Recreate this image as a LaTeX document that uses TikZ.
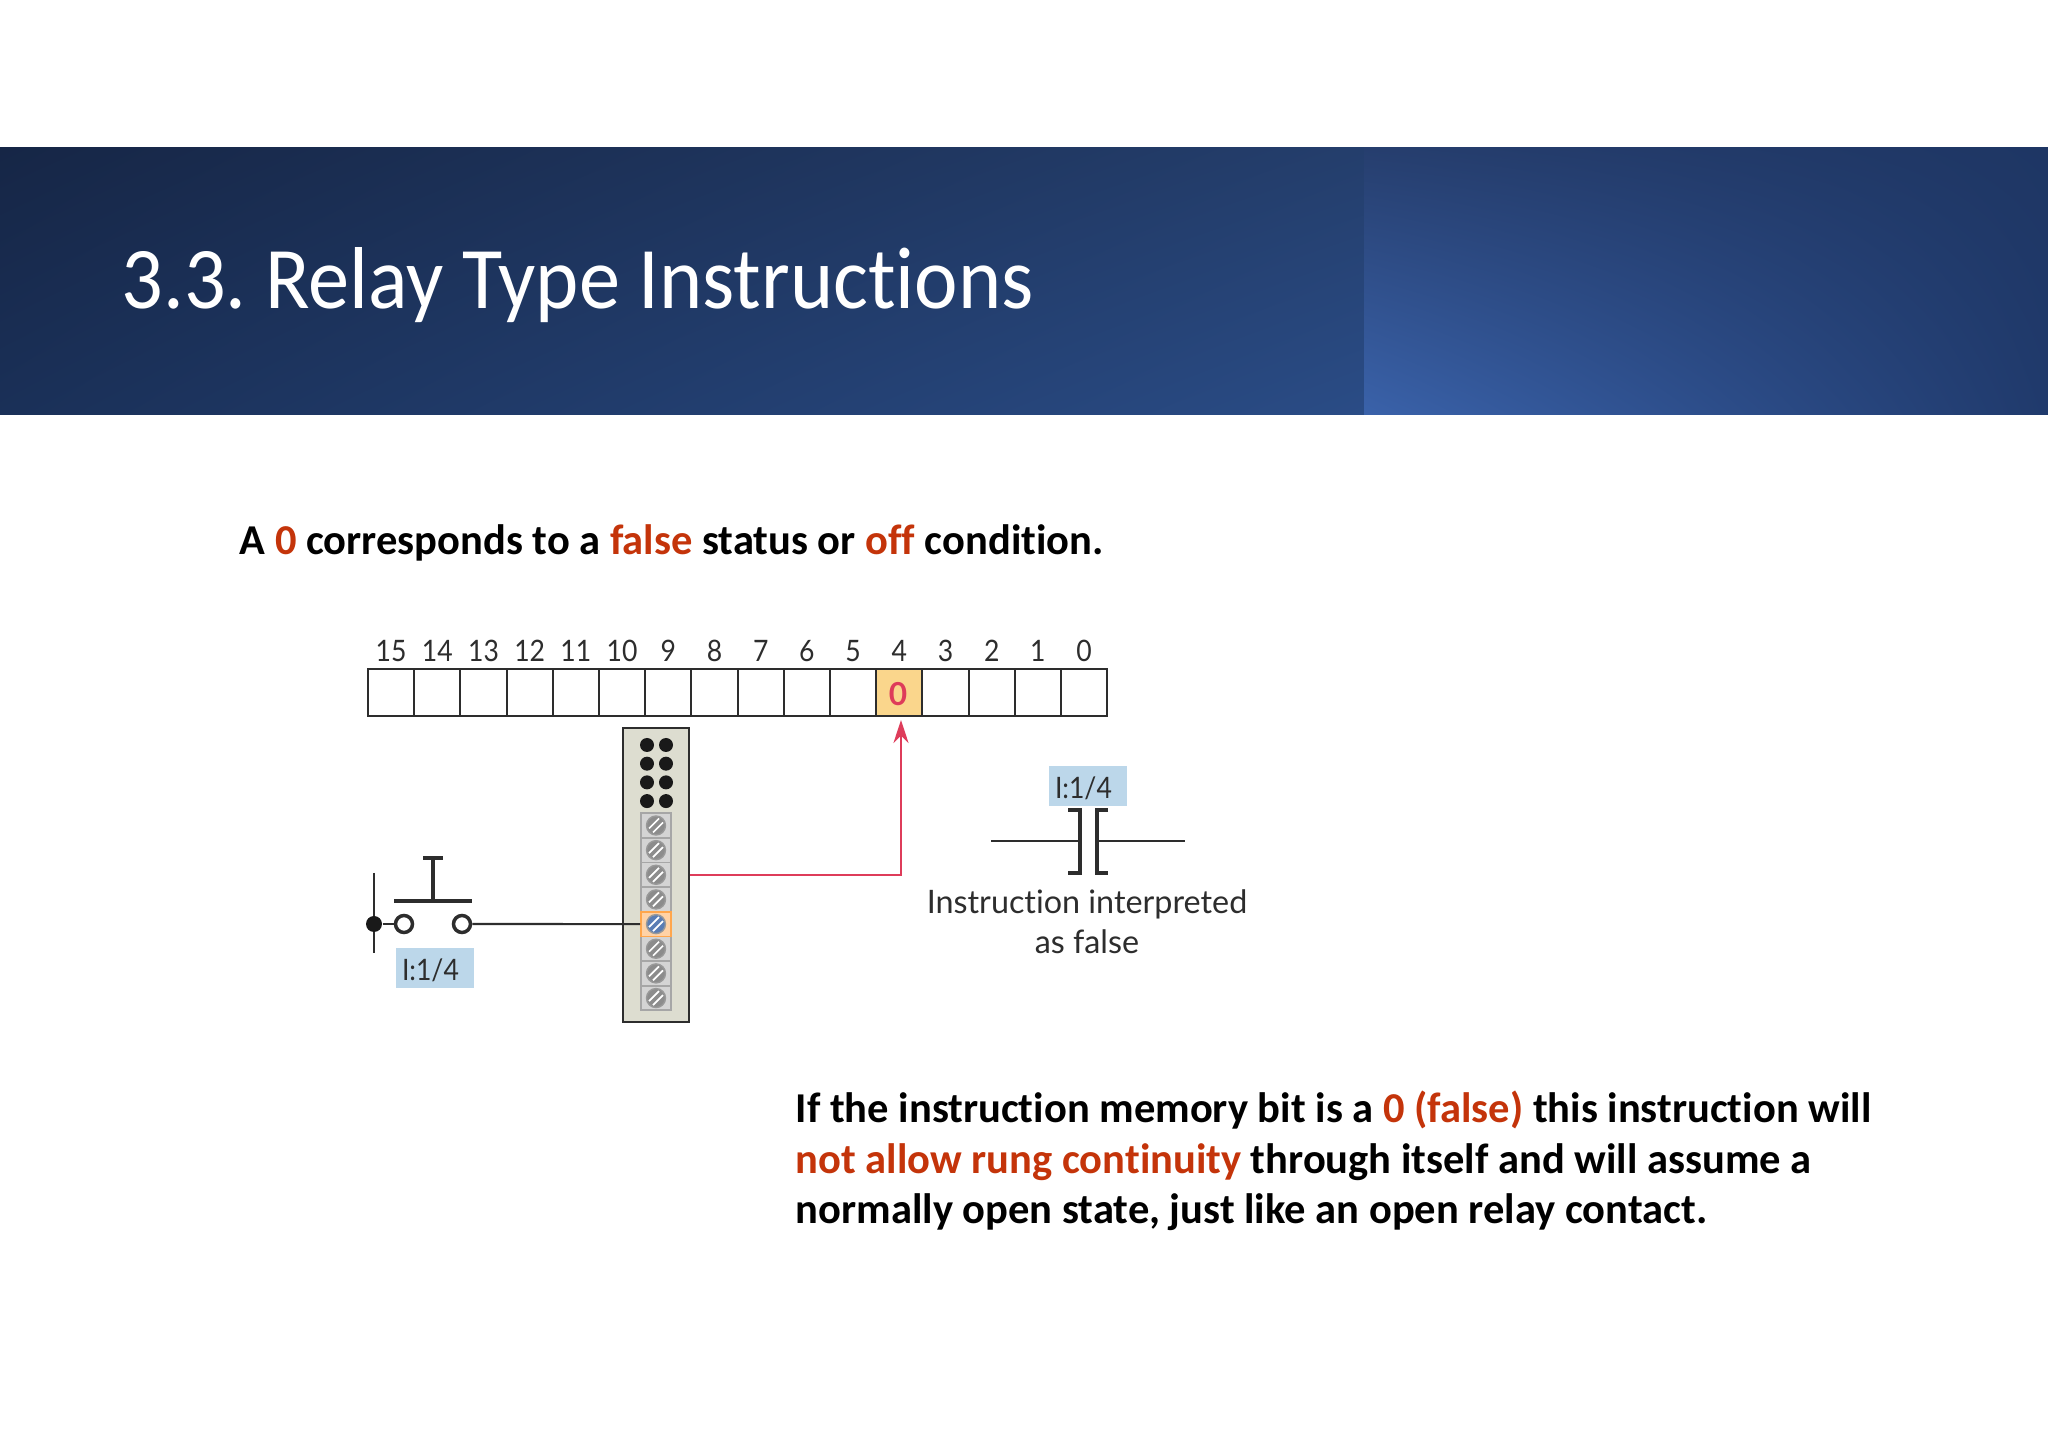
\documentclass[tikz,border=0pt]{standalone}
\usepackage{fontspec}
\setmainfont[Ligatures=NoCommon]{Carlito}
\newfontfamily\titlefont[FakeStretch=0.937,Ligatures=NoCommon]{Carlito}
\newfontfamily\figfont[Ligatures=NoCommon]{Lato}
\newfontfamily\tagfont[FakeStretch=0.9]{Lato}
\usetikzlibrary{arrows.meta,positioning,shadings}
\definecolor{hotred}{RGB}{196,52,10}
\definecolor{wirered}{RGB}{222,60,90}
\definecolor{tagblue}{RGB}{188,215,234}
\definecolor{bitorange}{RGB}{250,214,140}
\definecolor{figink}{RGB}{45,45,45}
\definecolor{blockgray}{RGB}{221,221,208}
\definecolor{bandUL}{RGB}{22,38,70}
\definecolor{bandLL}{RGB}{26,48,88}
\definecolor{bandUM}{RGB}{36,62,108}
\definecolor{bandLM}{RGB}{42,76,134}
\definecolor{bandUH}{RGB}{38,62,110}
\definecolor{bandLH}{RGB}{58,98,170}
\definecolor{bandUR}{RGB}{30,54,100}
\definecolor{bandLR}{RGB}{32,58,108}
\definecolor{screwblue}{RGB}{90,125,180}
\newcommand{\hot}[1]{\textcolor{hotred}{#1}}
\frenchspacing
\tikzset{
  fignum/.style={font=\tagfont\fontsize{8.4}{10}\selectfont, text=figink, inner sep=0pt},
  tagbox/.style={fill=tagblue, text width=0.66cm, align=left, inner xsep=0.06cm, inner ysep=0pt, execute at begin node={\rule[-0.07cm]{0pt}{0.40cm}}, font=\tagfont\fontsize{8.4}{10}\selectfont, text=figink},
  bitcell/.style={draw=figink, line width=0.55pt, minimum width=0.462cm, minimum height=0.47cm, inner sep=0pt},
  bodytext/.style={font=\fontsize{12.1}{11}\selectfont\bfseries, inner sep=0pt, anchor=base west},
  hole/.style={circle, fill=black!90, minimum size=0.14cm, inner sep=0pt},
  screwbox/.style={draw=black!35, fill=black!17, line width=0.5pt, minimum width=0.30cm, minimum height=0.246cm, inner sep=0pt},
  screw/.style={circle, draw=black!40, line width=0.4pt, fill=black!45, minimum size=0.19cm, inner sep=0pt},
  openpin/.style={circle, draw=figink, line width=1pt, fill=white, minimum size=0.17cm, inner sep=0pt}
}
\begin{document}
\begin{tikzpicture}[>=stealth]
\useasboundingbox (0,0) rectangle (20.48,14.48);
\fill[white] (0,0) rectangle (20.48,14.48);
\shade[upper left=bandUL, lower left=bandLL, upper right=bandUM, lower right=bandLM] (0,10.33) rectangle (13.64,13.00);
\shade[upper left=bandUH, lower left=bandLH, upper right=bandUR, lower right=bandLR] (13.64,10.33) rectangle (20.48,13.00);
\node[anchor=base west, inner sep=0pt, text=white, font=\titlefont\fontsize{25}{25}\selectfont] (title) at (1.21,11.39) {3.3. Relay Type Instructions};

\node[bodytext] (headline) at (2.39,8.93) {A \hot{0} corresponds to a \hot{false} status or \hot{off} condition.};

\foreach \bit [count=\i from 0] in {15,14,...,0}{
  \node[bitcell] (cell\bit) at ({3.911+0.462*\i},7.555) {};
  \node[fignum] (num\bit) at ({3.911+0.462*\i},7.97) {\bit};
}
\node[bitcell, fill=bitorange] (cell4) at (8.993,7.555) {};
\node[inner sep=0pt, text=wirered, font=\figfont\fontsize{9}{10}\selectfont\bfseries] (zero) at (8.98,7.54) {0};

\node[draw=figink, fill=blockgray, line width=0.7pt, minimum width=0.66cm, minimum height=2.94cm, inner sep=0pt] (block) at (6.56,5.73) {};
\foreach \row in {0,1,2,3}{
  \node[hole] (holeA\row) at (6.47,{7.03-0.187*\row}) {};
  \node[hole] (holeB\row) at (6.66,{7.03-0.187*\row}) {};
}
\foreach \row in {0,...,7}{
  \node[screwbox] (box\row) at (6.56,{6.225-0.2465*\row}) {};
  \node[screw] (screw\row) at (6.56,{6.225-0.2465*\row}) {};
  \draw[white, line width=0.5pt] ([shift={(-0.07,-0.03)}]screw\row.center) -- ([shift={(0.03,0.07)}]screw\row.center);
  \draw[white, line width=0.5pt] ([shift={(-0.03,-0.07)}]screw\row.center) -- ([shift={(0.07,0.03)}]screw\row.center);
}
\node[screwbox, draw=orange!70, fill=orange!35] (box4) at (6.56,5.239) {};
\node[screw, fill=screwblue] (screw4) at (6.56,5.239) {};
\draw[white, line width=0.5pt] ([shift={(-0.07,-0.03)}]screw4.center) -- ([shift={(0.03,0.07)}]screw4.center);
\draw[white, line width=0.5pt] ([shift={(-0.03,-0.07)}]screw4.center) -- ([shift={(0.07,0.03)}]screw4.center);

\coordinate (railtop) at (3.74,5.75);
\coordinate (railbot) at (3.74,4.95);
\draw[figink, line width=0.5pt] (railtop) -- (railbot);
\node[circle, fill=black!90, minimum size=0.16cm, inner sep=0pt] (raildot) at (3.74,5.24) {};
\node[openpin] (pinL) at (4.04,5.24) {};
\node[openpin] (pinR) at (4.62,5.24) {};
\draw[figink, line width=0.5pt] (raildot) -- (pinL);
\draw[figink, line width=0.6pt] (pinR) -- (box4.west);
\coordinate (barL) at (3.94,5.47);
\coordinate (barR) at (4.72,5.47);
\coordinate (stembot) at (4.33,5.47);
\coordinate (stemtop) at (4.33,5.90);
\draw[figink, line width=1pt] (barL) -- (barR);
\draw[figink, line width=1pt] (stembot) -- (stemtop);
\draw[figink, line width=1pt] (4.23,5.90) -- (4.43,5.90);
\node[tagbox] (tagpush) at (4.35,4.80) {I:1/4};

\coordinate (wirecorner) at (9.01,5.73);
\draw[wirered, line width=0.8pt, -{Stealth[length=0.23cm,width=0.15cm]}] (block.east |- wirecorner) -- (wirecorner) -- (wirecorner |- 0,7.28);

\node[tagbox] (tagcontact) at (10.88,6.62) {I:1/4};
\coordinate (leadL) at (9.91,6.07);
\coordinate (leadR) at (11.85,6.07);
\draw[figink, line width=0.6pt] (leadL) -- (10.80,6.07);
\draw[figink, line width=0.6pt] (10.97,6.07) -- (leadR);
\draw[figink, line width=1pt] (10.68,6.38) -- (10.80,6.38) -- (10.80,5.75) -- (10.68,5.75);
\draw[figink, line width=1pt] (11.08,6.38) -- (10.97,6.38) -- (10.97,5.75) -- (11.08,5.75);
\node[align=center, inner sep=0pt, font=\figfont\fontsize{9.2}{11.5}\selectfont, text=figink] (caption) at (10.87,5.26) {Instruction interpreted\\as false};

\node[bodytext] (lineA) at (7.95,3.26) {If the instruction memory bit is a \hot{0 (false)} this instruction will};
\node[bodytext] (lineB) at (7.95,2.74) {\hot{not allow rung continuity} through itself and will assume a};
\node[bodytext] (lineC) at (7.95,2.24) {normally open state, just like an open relay contact.};
\end{tikzpicture}
\end{document}
